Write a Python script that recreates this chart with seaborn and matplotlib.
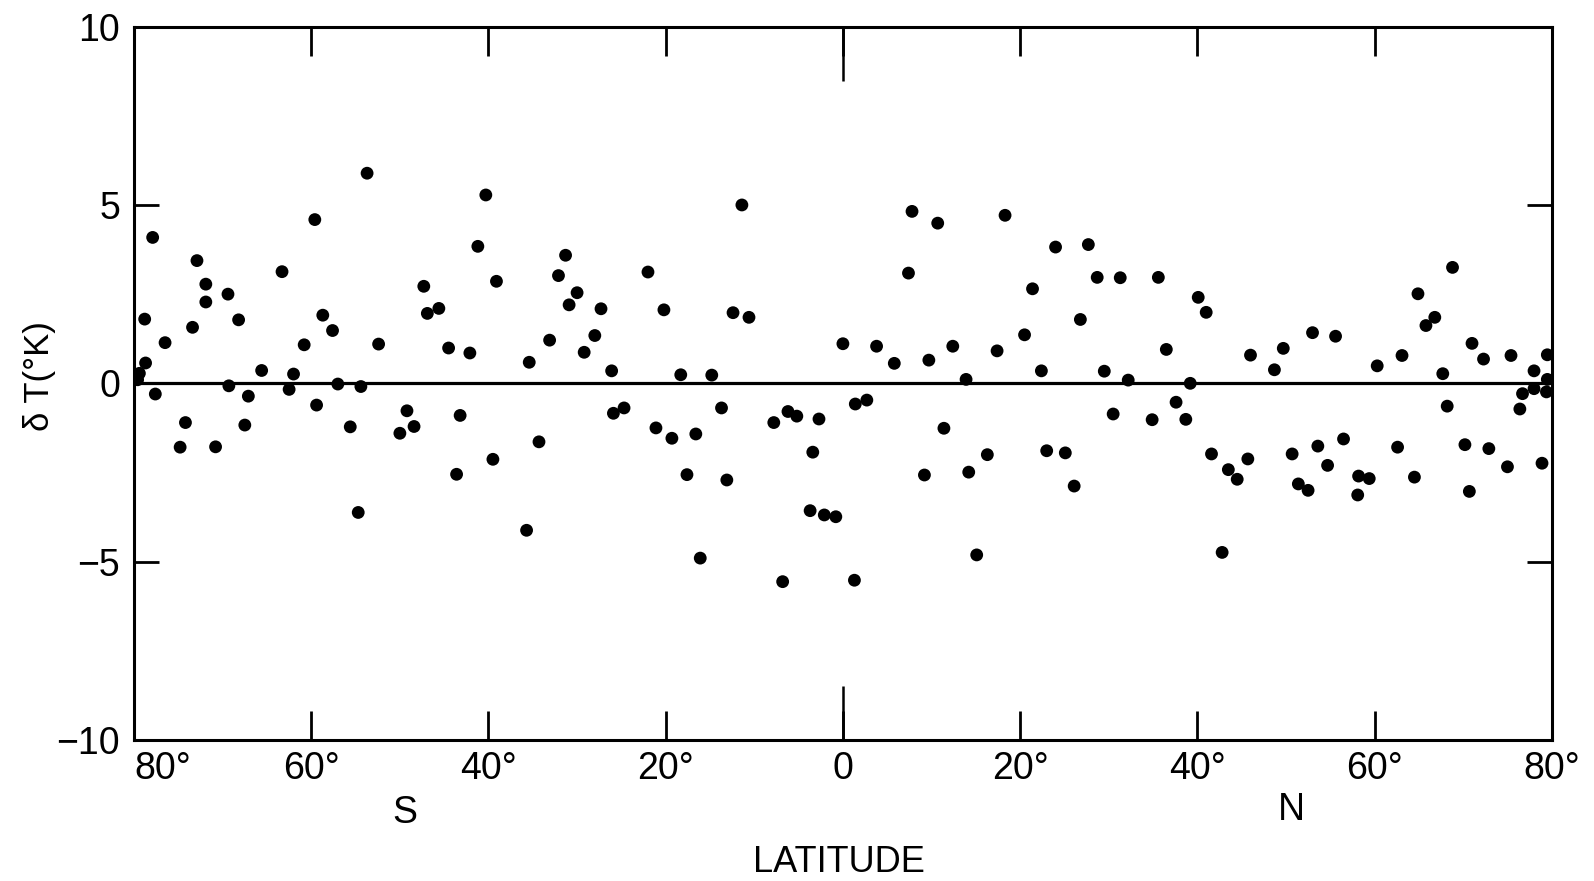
import matplotlib
matplotlib.use("Agg")
import matplotlib.pyplot as plt
import matplotlib.transforms as mtransforms
import pandas as pd
import seaborn as sns

# ---- data (latitude in degrees, S negative) ----
latitude = [
    -79.6, -79.4, -78.8, -78.7, -77.9, -77.6, -76.5, -74.8, -74.2, -73.4,
    -72.9, -71.9, -71.9, -70.8, -69.4, -69.3, -68.2, -67.5, -67.1, -65.6,
    -63.3, -62.5, -62.0, -60.8, -59.6, -59.4, -58.7, -57.6, -57.0, -55.6,
    -54.7, -54.4, -53.7, -52.4, -50.0, -49.2, -48.4, -47.3, -46.9, -45.6,
    -44.5, -43.6, -43.2, -42.1, -41.2, -40.3, -39.5, -39.1, -35.7, -35.4,
    -34.3, -33.1, -32.1, -31.3, -30.9, -30.0, -29.2, -28.0, -27.3, -26.1,
    -25.9, -24.7, -22.0, -21.1, -20.2, -19.3, -18.3, -17.6, -16.6, -16.1,
    -14.8, -13.7, -13.1, -12.4, -11.4, -10.6, -7.8, -6.8, -6.2, -5.2,
    -3.7, -3.4, -2.7, -2.1, -0.8, 0.0, 1.3, 1.4, 2.7, 3.8,
    5.8, 7.4, 7.8, 9.2, 9.7, 10.7, 11.4, 12.4, 13.9, 14.2,
    15.1, 16.3, 17.4, 18.3, 20.5, 21.4, 22.4, 23.0, 24.0, 25.1,
    26.1, 26.8, 27.7, 28.7, 29.5, 30.5, 31.3, 32.2, 34.9, 35.6,
    36.5, 37.6, 38.7, 39.2, 40.1, 41.0, 41.6, 42.8, 43.5, 44.5,
    45.7, 46.0, 48.7, 49.7, 50.7, 51.4, 52.5, 53.0, 53.6, 54.7,
    55.6, 56.5, 58.1, 58.2, 59.4, 60.3, 62.6, 63.1, 64.5, 64.9,
    65.8, 66.8, 67.7, 68.2, 68.8, 70.2, 70.7, 71.0, 72.3, 72.9,
    75.0, 75.4, 76.4, 76.7, 78.0, 78.0, 78.9, 79.4, 79.5, 79.5,
]
delta_T = [
    0.10, 0.28, 1.80, 0.57, 4.09, -0.30, 1.14, -1.79, -1.10, 1.57,
    3.44, 2.78, 2.28, -1.78, 2.50, -0.07, 1.78, -1.17, -0.36, 0.36,
    3.13, -0.17, 0.26, 1.08, 4.59, -0.61, 1.91, 1.48, -0.02, -1.22,
    -3.62, -0.09, 5.89, 1.10, -1.40, -0.77, -1.21, 2.72, 1.96, 2.10,
    0.99, -2.55, -0.90, 0.85, 3.84, 5.28, -2.13, 2.86, -4.12, 0.59,
    -1.64, 1.21, 3.02, 3.59, 2.20, 2.54, 0.87, 1.34, 2.09, 0.35,
    -0.84, -0.69, 3.12, -1.25, 2.06, -1.54, 0.24, -2.56, -1.42, -4.90,
    0.23, -0.69, -2.71, 1.98, 5.00, 1.85, -1.10, -5.56, -0.79, -0.92,
    -3.57, -1.93, -1.00, -3.69, -3.74, 1.11, -5.52, -0.58, -0.47, 1.04,
    0.56, 3.09, 4.82, -2.57, 0.65, 4.49, -1.26, 1.04, 0.11, -2.49,
    -4.81, -2.00, 0.91, 4.71, 1.36, 2.65, 0.35, -1.89, 3.82, -1.95,
    -2.88, 1.79, 3.89, 2.97, 0.34, -0.86, 2.96, 0.09, -1.02, 2.97,
    0.95, -0.53, -1.01, 0.00, 2.41, 1.99, -1.98, -4.74, -2.42, -2.69,
    -2.12, 0.79, 0.38, 0.98, -1.98, -2.82, -3.00, 1.42, -1.76, -2.30,
    1.32, -1.56, -3.13, -2.60, -2.67, 0.49, -1.79, 0.78, -2.63, 2.51,
    1.62, 1.85, 0.27, -0.64, 3.25, -1.72, -3.03, 1.12, 0.68, -1.83,
    -2.34, 0.78, -0.72, -0.29, 0.35, -0.15, -2.24, -0.24, 0.80, 0.11,
]
lat_ticks = [-80, -60, -40, -20, 0, 20, 40, 60, 80]
lat_tick_labels = ["80°", "60°", "40°", "20°", "0", "20°", "40°", "60°", "80°"]
dT_ticks = [-10, -5, 0, 5, 10]
dT_tick_labels = ["−10", "−5", "0", "5", "10"]
zero_line_lat = [-80, 80]
zero_line_dT = [0, 0]

# ---- style ----
sns.set_style("ticks")
plt.rcParams["font.family"] = ["Liberation Sans Narrow", "Liberation Sans", "DejaVu Sans"]
plt.rcParams["text.color"] = "black"
plt.rcParams["axes.labelcolor"] = "black"

fig = plt.figure(figsize=(15.94, 8.81), dpi=100)
ax = fig.add_axes([0.0841, 0.160, 0.8894, 0.8098])

df = pd.DataFrame({"lat": latitude, "dT": delta_T})
sns.lineplot(x=zero_line_lat, y=zero_line_dT, ax=ax, color="black",
             linewidth=2.3, zorder=2)
sns.scatterplot(data=df, x="lat", y="dT", ax=ax, color="black", s=85,
                edgecolor="none", linewidth=0, zorder=3)

ax.set_xlim(-80, 80)
ax.set_ylim(-10, 10)

for sp in ax.spines.values():
    sp.set_visible(True)
    sp.set_linewidth(2.2)
    sp.set_color("black")

ax.xaxis.remove_overlapping_locs = False
ax.set_xticks(lat_ticks)
ax.set_xticklabels(lat_tick_labels)
ax.set_yticks(dT_ticks)
ax.set_yticklabels(dT_tick_labels)
ax.set_xticks([0], minor=True)

ax.tick_params(axis="x", which="major", direction="in", length=21, width=2.0,
               top=True, bottom=True, labelsize=27, pad=8, colors="black")
ax.tick_params(axis="x", which="minor", direction="in", length=39, width=1.8,
               top=True, bottom=True, colors="black")
ax.tick_params(axis="y", which="major", direction="in", length=18, width=2.0,
               left=True, right=True, labelsize=27, pad=10, colors="black")

xt = ax.get_xticklabels()
xt[0].set_horizontalalignment("left")

ax.set_xlabel("LATITUDE", fontsize=26, va="center", color="black")
ax.xaxis.set_label_coords(0.497, -0.171)
ax.set_ylabel("δ T(°K)", fontsize=25, va="center", color="black")
ax.yaxis.set_label_coords(-0.067, 0.510)

trans = mtransforms.blended_transform_factory(ax.transData, ax.transAxes)
ax.text(-49.4, -0.102, "S", transform=trans, ha="center", va="center",
        fontsize=27, color="black")
ax.text(50.6, -0.098, "N", transform=trans, ha="center", va="center",
        fontsize=27, color="black")

fig.savefig("out.png", dpi=100, facecolor="white")
